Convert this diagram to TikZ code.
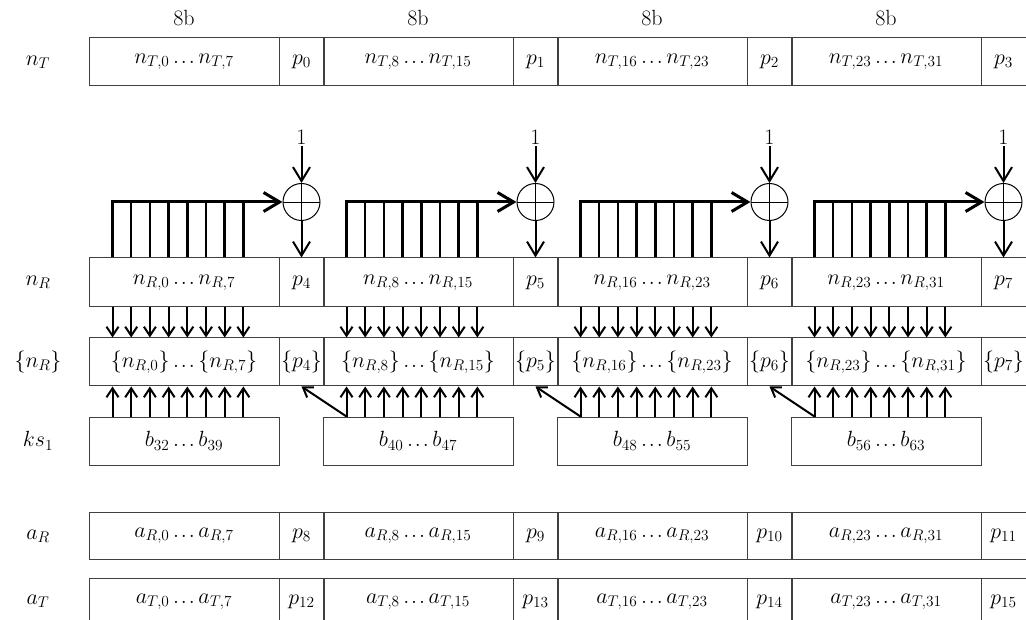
\RequirePackage{fix-cm}
\documentclass[tikz,border=0pt]{standalone}
\usetikzlibrary{arrows.meta,calc}
\newcommand{\eld}{\mathinner{\ldotp\mkern-1.5mu\ldotp\mkern-1.5mu\ldotp}}
\begin{document}
\begin{tikzpicture}[x=1pt,y=-1pt,
  cell/.style={draw=black!75, line width=1pt, inner sep=0pt, font=\fontsize{22}{26}\selectfont},
  seg/.style={cell, minimum width=190pt},
  pc/.style={cell, minimum width=45pt},
  lbl/.style={font=\fontsize{22}{26}\selectfont, inner sep=2pt},
  xorc/.style={circle, draw, line width=1pt, minimum size=37pt, inner sep=0pt,
    path picture={\draw[line width=0.8pt] (path picture bounding box.north) -- (path picture bounding box.south)
      (path picture bounding box.west) -- (path picture bounding box.east);}},
  bigarr/.style={line width=2pt, -{Straight Barb[length=14pt,width=17pt]}},
  busarr/.style={line width=3pt, -{Straight Barb[length=16pt,width=19pt,line width=3pt]}},
  smallarr/.style={line width=2pt, -{Straight Barb[length=9pt,width=12pt]}},
  tapline/.style={line width=2.5pt},
]
\useasboundingbox (0,0) rectangle (1026,620);
\fill[white] (0,0) rectangle (1026,620);
\clip (0,0) rectangle (1026,620);

% row labels
\node[lbl] (LnT) at (38,62) {$n_T$};
\node[lbl] (LnR) at (38,282) {$n_R$};
\node[lbl] (LnRs) at (38,362) {$\{n_R\}$};
\node[lbl] (Lks) at (38,441) {$ks_1$};
\node[lbl] (LaR) at (38,536) {$a_R$};
\node[lbl] (LaT) at (38,601) {$a_T$};

\foreach \k/\a/\b in {0/0/7, 1/8/15, 2/16/23, 3/23/31} {
  \pgfmathsetmacro{\sx}{184+234*\k}
  \pgfmathsetmacro{\px}{301.5+234*\k}
  \pgfmathtruncatemacro{\pa}{\k}
  \pgfmathtruncatemacro{\pb}{\k+4}
  \pgfmathtruncatemacro{\pc}{\k+8}
  \pgfmathtruncatemacro{\pd}{\k+12}
  \pgfmathtruncatemacro{\ba}{32+8*\k}
  \pgfmathtruncatemacro{\bb}{39+8*\k}
  \node[lbl] (eb\k) at (\sx,18) {8b};
  \node[seg, minimum height=48pt] (nT-s\k) at (\sx,62) {$n_{T,\a}\eld n_{T,\b}$};
  \node[pc, minimum height=48pt] (nT-p\k) at (\px,62) {$p_{\pa}$};
  \node[seg, minimum height=49pt] (nR-s\k) at (\sx,282.5) {$n_{R,\a}\eld n_{R,\b}$};
  \node[pc, minimum height=49pt] (nR-p\k) at (\px,282.5) {$p_{\pb}$};
  \node[seg, minimum height=48pt] (nRs-s\k) at (\sx,362) {$\{n_{R,\a}\}\eld\{n_{R,\b}\}$};
  \node[pc, minimum height=48pt] (nRs-p\k) at (\px,362) {$\{p_{\pb}\}$};
  \node[seg, minimum height=48pt] (ks\k) at (\sx,441) {$b_{\ba}\eld b_{\bb}$};
  \node[seg, minimum height=47pt] (aR-s\k) at (\sx,535.5) {$a_{R,\a}\eld a_{R,\b}$};
  \node[pc, minimum height=47pt] (aR-p\k) at (\px,535.5) {$p_{\pc}$};
  \node[seg, minimum height=48pt] (aT-s\k) at (\sx,602) {$a_{T,\a}\eld a_{T,\b}$};
  \node[pc, minimum height=48pt] (aT-p\k) at (\px,602) {$p_{\pd}$};
  % xor
  \node[xorc] (x\k) at (\px,202) {};
  \node[lbl] (one\k) at (\px,137) {1};
  \draw[bigarr] (one\k) -- (x\k.north);
  \draw[bigarr] (x\k.south) -- (nR-p\k.north);
  \foreach \i in {0,...,7} {
    \coordinate (tap\k\i) at ($(nR-s\k.north west)+(24+18.7*\i,0)$);
    \draw[tapline] (tap\k\i) -- (tap\k\i |- x\k.center);
    \draw[smallarr] (tap\k\i |- nR-s\k.south) -- (tap\k\i |- nRs-s\k.north);
    \draw[smallarr] (tap\k\i |- ks\k.north) -- (tap\k\i |- nRs-s\k.south);
  }
  \draw[busarr] ([xshift=-1.25pt]tap\k0 |- x\k.center) -- (x\k.west);
}
\foreach \k/\j in {1/0, 2/1, 3/2} {
  \draw[smallarr] (tap\k0 |- ks\k.north) -- (nRs-p\j.south);
}
\end{tikzpicture}
\end{document}
